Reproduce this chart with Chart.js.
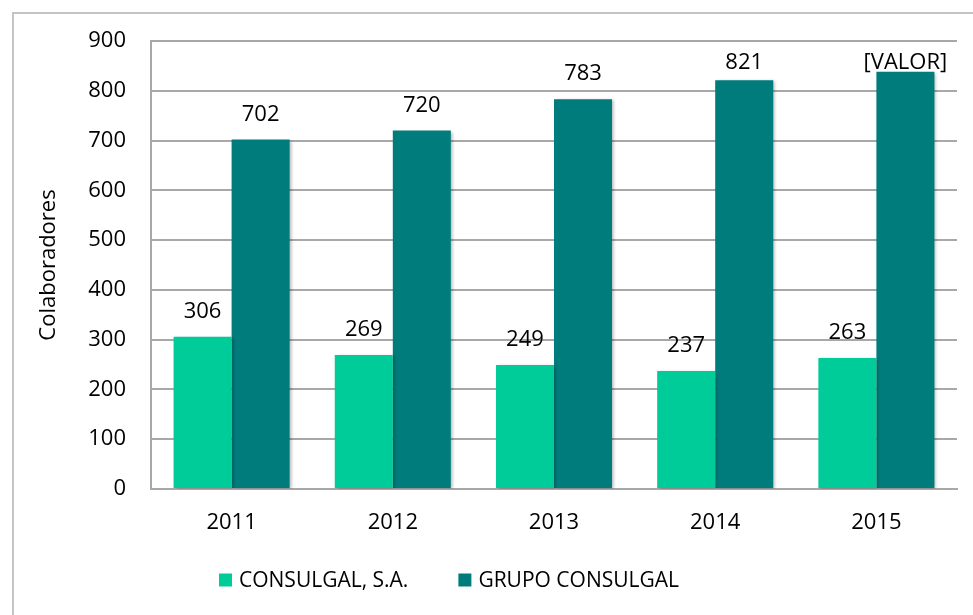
<!DOCTYPE html>
<html>
<head>
<meta charset="utf-8">
<script src="https://cdn.jsdelivr.net/npm/chart.js@4.4.0/dist/chart.umd.min.js"></script>
<style>
    html, body { margin: 0; padding: 0; background: #fff; overflow: hidden; }
    #wrap { position: relative; width: 973px; height: 615px; }
    #marco {
        position: absolute; left: 12px; top: 12px; width: 1000px; height: 700px;
        border: 2px solid #c4c4c4; pointer-events: none;
    }
</style>
</head>
<body>
<div id="wrap">
    <canvas id="colaboradoresChart" width="973" height="615"></canvas>
    <div id="marco"></div>
</div>
<script>
const anos = ['2011', '2012', '2013', '2014', '2015'];
const consulgalSA = [306, 269, 249, 237, 263];
const grupoConsulgal = [702, 720, 783, 821, 838];
const etiquetasSA = ['306', '269', '249', '237', '263'];
const etiquetasGrupo = ['702', '720', '783', '821', '[VALOR]'];
const ticksY = [0, 100, 200, 300, 400, 500, 600, 700, 800, 900];

const fuente = '"Open Sans", sans-serif';
const colorSA = '#00cc99';
const colorGrupo = '#007c7c';

// sombra suave de las barras
const sombraBarras = {
    id: 'sombraBarras',
    beforeDatasetsDraw(chart) {
        const ctx = chart.ctx;
        ctx.save();
        ctx.shadowColor = 'rgba(0,0,0,0.28)';
        ctx.shadowBlur = 3;
        ctx.shadowOffsetX = 2;
        ctx.shadowOffsetY = 1;
    },
    afterDatasetsDraw(chart) {
        chart.ctx.restore();
    }
};

// valores encima de las barras
const etiquetasValor = {
    id: 'etiquetasValor',
    afterDatasetsDraw(chart) {
        const ctx = chart.ctx;
        const textos = [etiquetasSA, etiquetasGrupo];
        ctx.save();
        ctx.font = '22px ' + fuente;
        ctx.fillStyle = '#000';
        ctx.textAlign = 'center';
        ctx.textBaseline = 'alphabetic';
        chart.data.datasets.forEach((ds, i) => {
            chart.getDatasetMeta(i).data.forEach((bar, j) => {
                const y = Math.max(bar.y - 19, chart.chartArea.top + 28);
                ctx.fillText(textos[i][j], bar.x, y);
            });
        });
        ctx.restore();
    }
};

// leyenda dibujada a mano para controlar el espaciado
const leyenda = {
    id: 'leyenda',
    afterDraw(chart) {
        const ctx = chart.ctx;
        ctx.save();
        ctx.font = '21px ' + fuente;
        ctx.textBaseline = 'middle';
        const caja = 13, hueco = 7, sep = 50, cy = 580;
        let x = 219;
        chart.data.datasets.forEach((ds) => {
            ctx.fillStyle = ds.backgroundColor;
            ctx.fillRect(x, cy - caja / 2, caja, caja);
            ctx.fillStyle = '#000';
            ctx.fillText(ds.label, x + caja + hueco, cy + 1);
            x += caja + hueco + ctx.measureText(ds.label).width + sep;
        });
        ctx.restore();
    }
};

const ctx = document.getElementById('colaboradoresChart');

const chart = new Chart(ctx, {
    type: 'bar',
    data: {
        labels: anos,
        datasets: [{
            label: 'CONSULGAL, S.A.',
            data: consulgalSA,
            backgroundColor: colorSA,
            categoryPercentage: 0.72,
            barPercentage: 1
        }, {
            label: 'GRUPO CONSULGAL',
            data: grupoConsulgal,
            backgroundColor: colorGrupo,
            categoryPercentage: 0.72,
            barPercentage: 1
        }]
    },
    options: {
        responsive: false,
        animation: false,
        layout: {
            padding: { left: 30, top: 41, right: 16, bottom: 66 }
        },
        plugins: {
            legend: { display: false },
            tooltip: { enabled: false }
        },
        scales: {
            x: {
                afterFit(scale) { scale.height = 60; },
                grid: { display: false, drawTicks: false },
                border: { display: true, color: '#a8a8a8', width: 2 },
                ticks: {
                    padding: 21,
                    color: '#000',
                    font: { family: fuente, size: 22 }
                }
            },
            y: {
                min: 0,
                max: 900,
                afterFit(scale) { scale.width = 121; },
                afterBuildTicks(scale) {
                    scale.ticks = ticksY.map(v => ({ value: v }));
                },
                grid: { color: '#a8a8a8', lineWidth: 2, drawTicks: false },
                border: { display: true, color: '#a8a8a8', width: 2 },
                ticks: {
                    padding: 25,
                    color: '#000',
                    font: { family: fuente, size: 22 }
                },
                title: {
                    display: true,
                    text: 'Colaboradores',
                    color: '#000',
                    padding: { top: 6, bottom: 0 },
                    font: { family: fuente, size: 22 }
                }
            }
        }
    },
    plugins: [sombraBarras, etiquetasValor, leyenda]
});
</script>
</body>
</html>
